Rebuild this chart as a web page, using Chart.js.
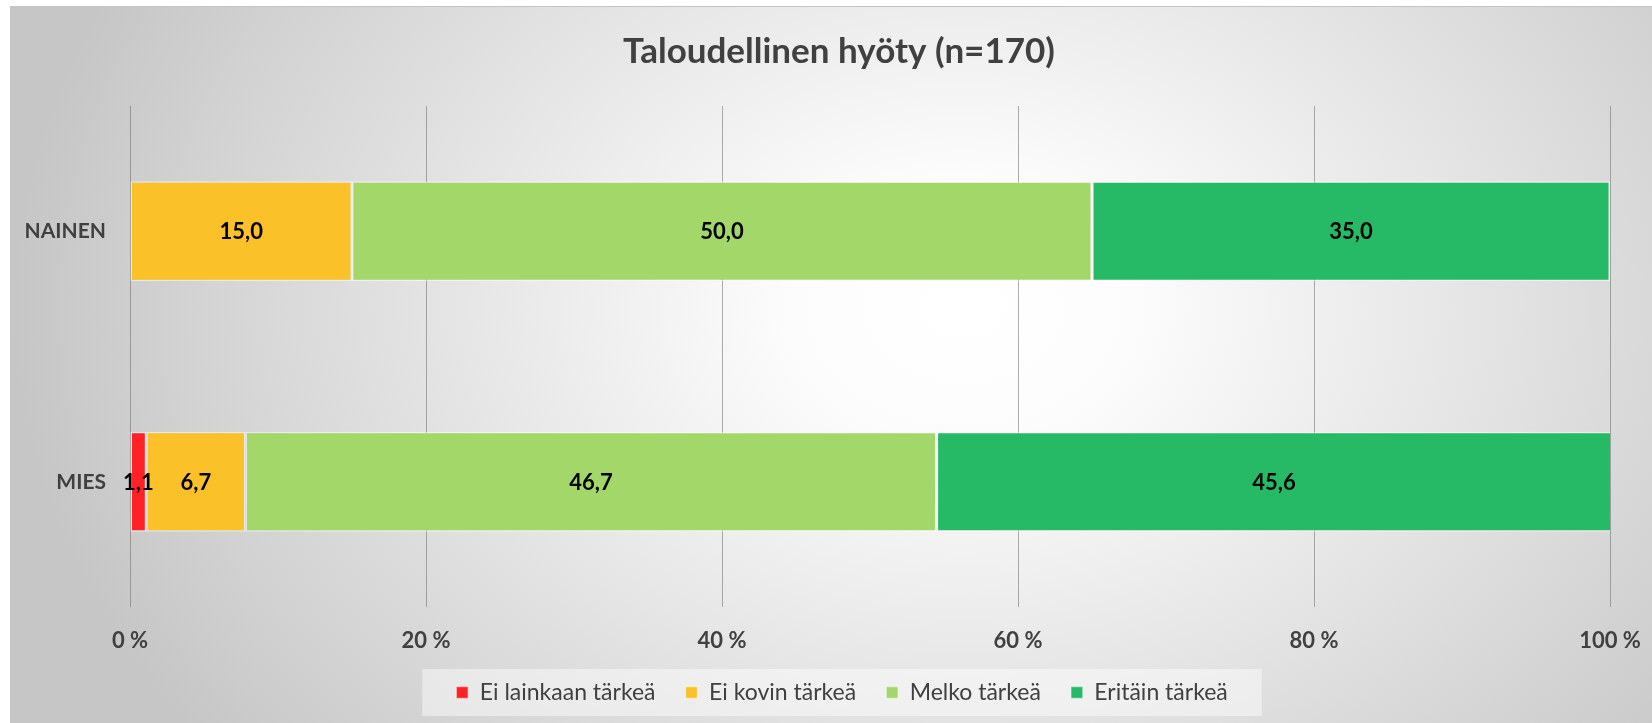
<!DOCTYPE html>
<html>
<head>
<meta charset="utf-8">
<script src="https://cdn.jsdelivr.net/npm/chart.js@4.4.0/dist/chart.umd.min.js"></script>
<style>
  html, body { margin: 0; padding: 0; background: #fff; }
  #frame {
    position: absolute; left: 10px; top: 6px; width: 1642px; height: 717px;
    background: radial-gradient(ellipse 950px 720px at 58% 42%, #ffffff 0%, #fcfcfc 18%, #e4e4e4 55%, #c6c6c6 100%);
    border-top: 1px solid #c4c4c4;
    box-sizing: border-box;
  }
  #frame canvas { position: absolute; left: 0; top: 0; }
</style>
</head>
<body>
<div id="frame"><canvas id="hyotyChart" width="1642" height="716"></canvas></div>
<script>
const categories = ['NAINEN', 'MIES'];
const seriesNames = ['Ei lainkaan tärkeä', 'Ei kovin tärkeä', 'Melko tärkeä', 'Eritäin tärkeä'];
const eiLainkaan = [0, 1.1];
const eiKovin = [15.0, 6.7];
const melko = [50.0, 46.7];
const eritain = [35.0, 45.6];
const xTicks = [0, 20, 40, 60, 80, 100];

const colors = ['#fe2227', '#fac228', '#a3d76a', '#27ba66'];
const textGray = '#404040';

const ctx = document.getElementById('hyotyChart');

// value labels in the middle of each bar piece
const barLabels = {
  id: 'barLabels',
  afterDatasetsDraw(chart) {
    const c = chart.ctx;
    c.save();
    c.font = 'bold 22px Lato';
    c.fillStyle = '#000';
    c.textAlign = 'center';
    c.textBaseline = 'middle';
    chart.data.datasets.forEach((ds, i) => {
      chart.getDatasetMeta(i).data.forEach((bar, j) => {
        const v = ds.data[j];
        if (!v) return;
        const p = bar.getCenterPoint();
        c.fillText(v.toFixed(1).replace('.', ','), p.x, p.y + 1);
      });
    });
    c.restore();
  },
};

// legend box height fixed, title + legend nudged right like in the original
const layoutTweaks = {
  id: 'layoutTweaks',
  beforeLayout(chart) {
    const lg = chart.legend;
    if (!lg || lg._patched) return;
    const fit = lg.fit;
    lg.fit = function () { fit.call(this); this.height = 68; };
    lg._patched = true;
  },
  afterLayout(chart) {
    const t = chart.titleBlock;
    if (t) { t.left += 29; t.right += 29; }
    const lg = chart.legend;
    if (lg) { lg.left += 32; lg.right += 32; lg.top -= 4; lg.bottom -= 4; }
  },
};

// light box behind the legend
const legendBox = {
  id: 'legendBox',
  beforeDraw(chart) {
    const boxes = chart.legend.legendHitBoxes;
    if (!boxes || !boxes.length) return;
    const left = boxes[0].left - 34;
    const last = boxes[boxes.length - 1];
    const right = last.left + last.width + 34;
    const c = chart.ctx;
    c.save();
    c.fillStyle = 'rgba(255,255,255,0.45)';
    c.fillRect(left, boxes[0].top - 12, right - left, boxes[0].height + 24);
    c.restore();
  },
};

const chart = new Chart(ctx, {
  type: 'bar',
  data: {
    labels: categories,
    datasets: [eiLainkaan, eiKovin, melko, eritain].map((d, i) => ({
      label: seriesNames[i],
      data: d,
      backgroundColor: colors[i],
      borderColor: 'rgba(255,255,255,0.5)',
      borderWidth: 1.5,
      borderSkipped: false,
      categoryPercentage: 0.4,
      barPercentage: 1,
    })),
  },
  options: {
    responsive: false,
    animation: false,
    indexAxis: 'y',
    layout: { padding: { left: 0, right: 42, top: 0, bottom: 0 } },
    scales: {
      x: {
        stacked: true,
        min: 0,
        max: 100,
        afterBuildTicks: s => { s.ticks = xTicks.map(v => ({ value: v })); },
        afterFit: s => { s.height = 48; s.paddingLeft = 0; s.paddingRight = 0; },
        grid: { color: 'rgba(110,110,110,0.55)', drawTicks: false },
        border: { display: false },
        ticks: {
          padding: 21,
          color: textGray,
          font: { family: 'Lato', size: 22, weight: 'bold' },
          callback: v => v + ' %',
        },
      },
      y: {
        stacked: true,
        afterFit: s => { s.width = 120; },
        grid: { display: false },
        border: { display: false },
        ticks: {
          padding: 16,
          color: textGray,
          font: { family: 'Lato', size: 21, weight: 'bold' },
        },
      },
    },
    plugins: {
      title: {
        display: true,
        text: 'Taloudellinen hyöty (n=170)',
        color: textGray,
        font: { family: 'Lato', size: 35, weight: 'bold' },
        padding: { top: 24, bottom: 33 },
      },
      legend: {
        position: 'bottom',
        labels: {
          color: textGray,
          font: { family: 'Lato', size: 23 },
          boxWidth: 12,
          boxHeight: 12,
          padding: 30,
        },
      },
      tooltip: { enabled: false },
    },
  },
  plugins: [barLabels, layoutTweaks, legendBox],
});
</script>
</body>
</html>
